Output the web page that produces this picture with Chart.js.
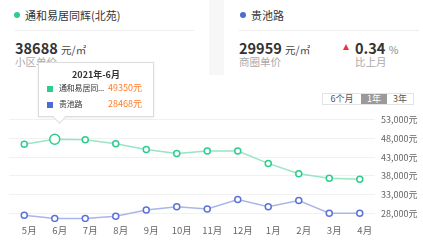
<!DOCTYPE html>
<html lang="zh-CN">
<head>
  <meta charset="UTF-8" />
  <title>房价走势</title>
  <script src="https://cdn.jsdelivr.net/npm/chart.js"></script>
  <style>
    body {
      margin: 0;
      width: 423px;
      height: 240px;
      position: relative;
      overflow: hidden;
      background: #fff;
      font-family: "Noto Sans CJK SC", "Noto Sans", sans-serif;
      color: #333;
    }
    .gap {
      position: absolute;
      left: 209px;
      top: 0;
      width: 15px;
      height: 75px;
      background: #f7f7f8;
    }
    .abs { position: absolute; white-space: nowrap; }
    .dot {
      position: absolute;
      width: 6px;
      height: 6px;
      border-radius: 50%;
    }
    .title { font-size: 11px; line-height: 16px; }
    .sep { position: absolute; height: 1px; background: #eeeeee; top: 30px; }
    .big { font-size: 14.5px; font-weight: bold; line-height: 18px; }
    .unit { font-size: 10.5px; font-weight: normal; color: #444; }
    .sub { font-size: 10.5px; color: #aaa; line-height: 14px; }
    .tri {
      position: absolute;
      width: 0; height: 0;
      border-left: 3.5px solid transparent;
      border-right: 3.5px solid transparent;
      border-bottom: 6px solid #f0323c;
    }
    .btns {
      position: absolute;
      left: 322px;
      top: 93px;
      display: flex;
      border: 1px solid #e3e3e3;
      font-size: 9px;
      color: #555;
    }
    .btns div { height: 10px; line-height: 10px; text-align: center; }
    .btns .on { background: #9a9a9a; color: #fff; }
    #chartBox {
      position: absolute;
      left: 0;
      top: 108px;
      width: 423px;
      height: 132px;
    }
    .tip {
      position: absolute;
      left: 38px;
      top: 62px;
      width: 114px;
      height: 53px;
      background: #fff;
      border: 1px solid #dcdcdc;
      box-shadow: 0 1px 3px rgba(0,0,0,0.08);
      z-index: 5;
      font-size: 8px;
    }
    .tip .head { position: absolute; left: 0; right: 0; top: 5px; text-align: center; font-weight: bold; font-size: 9px; }
    .tip .sq { position: absolute; width: 6px; height: 6px; left: 8px; }
    .tip .nm { position: absolute; left: 20px; color: #333; letter-spacing: -0.2px; }
    .tip .val { position: absolute; left: 69px; color: #ff7d2a; font-size: 9px; }
    .arrow {
      position: absolute;
      left: 16px;
      bottom: -6px;
      width: 8px; height: 8px;
      background: #fff;
      border-right: 1px solid #dcdcdc;
      border-bottom: 1px solid #dcdcdc;
      transform: rotate(45deg);
    }
  </style>
</head>
<body>
  <div class="gap"></div>

  <!-- left card -->
  <div class="dot" style="left:14px; top:12px; background:#2ecc8f;"></div>
  <div class="abs title" style="left:25px; top:7px;">通和易居同辉(北苑)</div>
  <div class="sep" style="left:15px; width:179px;"></div>
  <div class="abs big" style="left:15px; top:39px;">38688 <span class="unit">元/㎡</span></div>
  <div class="abs sub" style="left:15px; top:55px;">小区单价</div>

  <!-- right card -->
  <div class="dot" style="left:240px; top:12px; background:#4e6bd3;"></div>
  <div class="abs title" style="left:251px; top:7px;">贵池路</div>
  <div class="sep" style="left:239px; width:180px;"></div>
  <div class="abs big" style="left:239px; top:39px;">29959 <span class="unit">元/㎡</span></div>
  <div class="abs sub" style="left:239px; top:55px;">商圈单价</div>
  <div class="tri" style="left:343px; top:44px;"></div>
  <div class="abs big" style="left:355px; top:39px;">0.34 <span class="unit" style="color:#888;">%</span></div>
  <div class="abs sub" style="left:355px; top:55px;">比上月</div>

  <div class="btns">
    <div style="width:38px;">6个月</div>
    <div class="on" style="width:26px;">1年</div>
    <div style="width:26px;">3年</div>
  </div>

  <div class="tip" id="tip">
    <div class="head" id="tipTitle"></div>
    <div class="sq" style="top:23px; background:#2ecc8f;"></div>
    <div class="nm" style="top:19px;" id="tipName0"></div>
    <div class="val" style="top:18px;" id="tipVal0"></div>
    <div class="sq" style="top:39px; background:#4e6bd3;"></div>
    <div class="nm" style="top:35px;" id="tipName1"></div>
    <div class="val" style="top:34px;" id="tipVal1"></div>
    <div class="arrow"></div>
  </div>

  <div id="chartBox"><canvas id="priceChart"></canvas></div>

  <script>
    const months = ['5月', '6月', '7月', '8月', '9月', '10月', '11月', '12月', '1月', '2月', '3月', '4月'];
    const estatePrices = [46440, 47740, 47630, 46520, 45040, 43930, 44630, 44630, 41340, 38570, 37380, 37120];
    const districtPrices = [27610, 26760, 26760, 27350, 28985, 29865, 29245, 31755, 29865, 31500, 28130, 28130];
    const yTicks = [28000, 33000, 38000, 43000, 48000, 53000];

    // tooltip shown for 6月
    const tipTitle = '2021年-6月';
    const tipNames = ['通和易居同...', '贵池路'];
    const tipValues = ['49350元', '28468元'];

    document.getElementById('tipTitle').textContent = tipTitle;
    document.getElementById('tipName0').textContent = tipNames[0];
    document.getElementById('tipName1').textContent = tipNames[1];
    document.getElementById('tipVal0').textContent = tipValues[0];
    document.getElementById('tipVal1').textContent = tipValues[1];

    const estateRadius = months.map((m, i) => i === 1 ? 5 : 3);

    const ctx = document.getElementById('priceChart').getContext('2d');
    new Chart(ctx, {
      type: 'line',
      data: {
        labels: months,
        datasets: [{
          label: '通和易居同辉(北苑)',
          data: estatePrices,
          borderColor: '#98e5c4',
          borderWidth: 1.5,
          pointBorderColor: '#2ecc8f',
          pointBackgroundColor: '#fff',
          pointBorderWidth: 1.5,
          pointRadius: estateRadius,
          tension: 0
        }, {
          label: '贵池路',
          data: districtPrices,
          borderColor: '#a9b6ec',
          borderWidth: 1.5,
          pointBorderColor: '#5b73d6',
          pointBackgroundColor: '#fff',
          pointBorderWidth: 1.5,
          pointRadius: 3,
          tension: 0
        }]
      },
      options: {
        responsive: true,
        maintainAspectRatio: false,
        animation: false,
        layout: { padding: { left: 9, top: 9, right: 0, bottom: 0 } },
        plugins: {
          legend: { display: false },
          tooltip: { enabled: false }
        },
        scales: {
          x: {
            offset: true,
            grid: { display: false, drawTicks: false },
            border: { display: false },
            ticks: {
              color: '#666',
              font: { size: 9.5, family: '"Noto Sans CJK SC", sans-serif' },
              labelOffset: 5,
              padding: 3,
              maxRotation: 0,
              autoSkip: false
            },
            afterFit: function (scale) { scale.height = 18; }
          },
          y: {
            position: 'right',
            min: 25800,
            max: 53000,
            afterBuildTicks: function (scale) {
              scale.ticks = yTicks.map(v => ({ value: v }));
            },
            grid: { color: '#f1f1f1', drawTicks: false },
            border: { display: false },
            ticks: {
              color: '#666',
              font: { size: 9, family: '"Noto Sans CJK SC", sans-serif' },
              padding: 6,
              callback: v => v.toLocaleString('en-US') + '元'
            },
            afterFit: function (scale) { scale.width = 48; }
          }
        }
      }
    });
  </script>
</body>
</html>
